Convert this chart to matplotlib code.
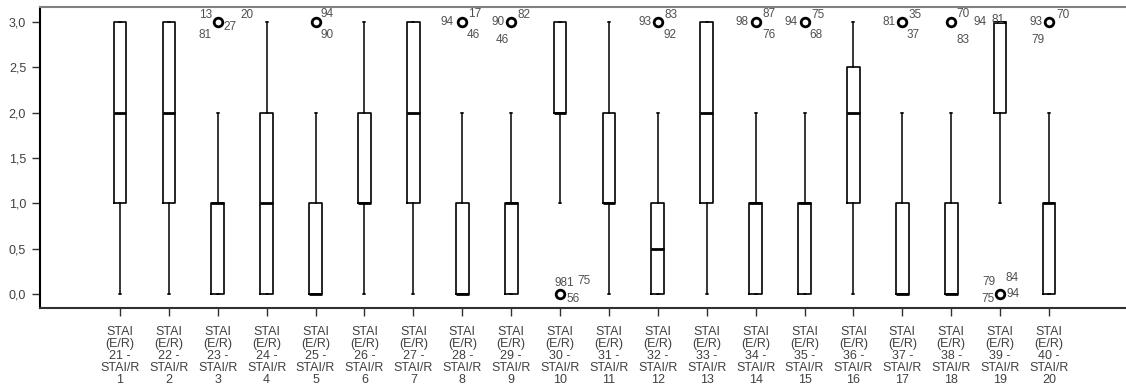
import matplotlib.pyplot as plt
import numpy as np

plt.rcParams["font.family"] = ["Liberation Sans", "DejaVu Sans"]

# ===== data =====
item_e = list(range(21, 41))
item_r = list(range(1, 21))
q1 = [1, 1, 0, 0, 0, 1, 1, 0, 0, 2, 1, 0, 1, 0, 0, 1, 0, 0, 2, 0]
med = [2, 2, 1, 1, 0, 1, 2, 0, 1, 2, 1, 0.5, 2, 1, 1, 2, 0, 0, 3, 1]
q3 = [3, 3, 1, 2, 1, 2, 3, 1, 1, 3, 2, 1, 3, 1, 1, 2.5, 1, 1, 3, 1]
whis_lo = [0, 0, 0, 0, 0, 0, 0, 0, 0, 1, 0, 0, 0, 0, 0, 0, 0, 0, 1, 0]
whis_hi = [3, 3, 2, 3, 2, 3, 3, 2, 2, 3, 3, 2, 3, 2, 2, 3, 2, 2, 3, 2]
outlier_val = {3: 3, 5: 3, 8: 3, 9: 3, 10: 0, 12: 3, 14: 3, 15: 3,
               17: 3, 18: 3, 19: 0, 20: 3}
outlier_ids = {
    3: ["13", "81", "27", "20"],
    5: ["94", "90"],
    8: ["94", "17", "46"],
    9: ["90", "82", "46"],
    10: ["981", "75", "56"],
    12: ["93", "83", "92"],
    14: ["98", "87", "76"],
    15: ["94", "75", "68"],
    17: ["81", "35", "37"],
    18: ["70", "94", "81", "83"],
    19: ["79", "84", "75", "94"],
    20: ["93", "70", "79"],
}
# label offsets (pixels) around the outlier marker
label_pos = {
    3: [(-12, 7), (-13, -13), (12, -5), (29, 7)],
    5: [(11, 8), (11, -13)],
    8: [(-15, 0), (12, 8), (11, -13)],
    9: [(-13, 0), (13, 7), (-9, -18)],
    10: [(4, 11), (24, 13), (13, -5)],
    12: [(-13, 0), (13, 7), (12, -13)],
    14: [(-14, 0), (13, 8), (13, -13)],
    15: [(-13, 0), (13, 7), (11, -13)],
    17: [(-13, 0), (13, 7), (11, -13)],
    18: [(12, 8), (29, 0), (47, 2), (12, -18)],
    19: [(-11, 12), (12, 16), (-12, -5), (13, 0)],
    20: [(-13, 0), (14, 7), (-11, -18)],
}

positions = np.arange(1, 21)
stats = []
for i in range(20):
    stats.append({
        "med": med[i], "q1": q1[i], "q3": q3[i],
        "whislo": whis_lo[i], "whishi": whis_hi[i],
        "fliers": [outlier_val[i + 1]] if (i + 1) in outlier_val else [],
    })

fig = plt.figure(figsize=(11.26, 3.89), dpi=100)
ax = fig.add_axes([40 / 1126, 1 - 308 / 389, 1 - 40 / 1126, 301 / 389])

ax.bxp(
    stats, positions=positions, widths=0.26, capwidths=0.04,
    boxprops=dict(color="black", linewidth=1.2),
    medianprops=dict(color="black", linewidth=2.0),
    whiskerprops=dict(color="black", linewidth=1.1),
    capprops=dict(color="black", linewidth=1.1),
    flierprops=dict(marker="o", markersize=6.2, markerfacecolor="none",
                    markeredgecolor="black", markeredgewidth=2.0),
)

for k, ids in outlier_ids.items():
    for txt, (dx, dy) in zip(ids, label_pos[k]):
        ax.annotate(txt, (k, outlier_val[k]), xytext=(dx, dy),
                    textcoords="offset pixels", ha="center", va="center",
                    fontsize=8.5, color="#505050")

ax.set_xlim(1 - 80 / 48.9, 20 + 77 / 48.9)
ax.set_ylim(-0.156, 3.167)
yt = np.arange(0, 3.01, 0.5)
ax.set_yticks(yt)
ax.set_yticklabels([f"{v:.1f}".replace(".", ",") for v in yt])
ax.set_xticks(positions)
ax.set_xticklabels([f"STAI\n(E/R)\n{e} -\nSTAI/R\n{r}" for e, r in zip(item_e, item_r)],
                   linespacing=1.0)
ax.tick_params(axis="both", labelsize=9, labelcolor="#404040", length=6,
               width=1.0, direction="out", color="#303030")
ax.tick_params(axis="y", pad=4)
ax.tick_params(axis="x", pad=7)

ax.spines["right"].set_visible(False)
ax.spines["top"].set_color("#808080")
ax.spines["top"].set_linewidth(1.5)
ax.spines["left"].set_linewidth(1.5)
ax.spines["bottom"].set_linewidth(1.5)
ax.spines["bottom"].set_color("#303030")

fig.savefig("out.png", dpi=100)
